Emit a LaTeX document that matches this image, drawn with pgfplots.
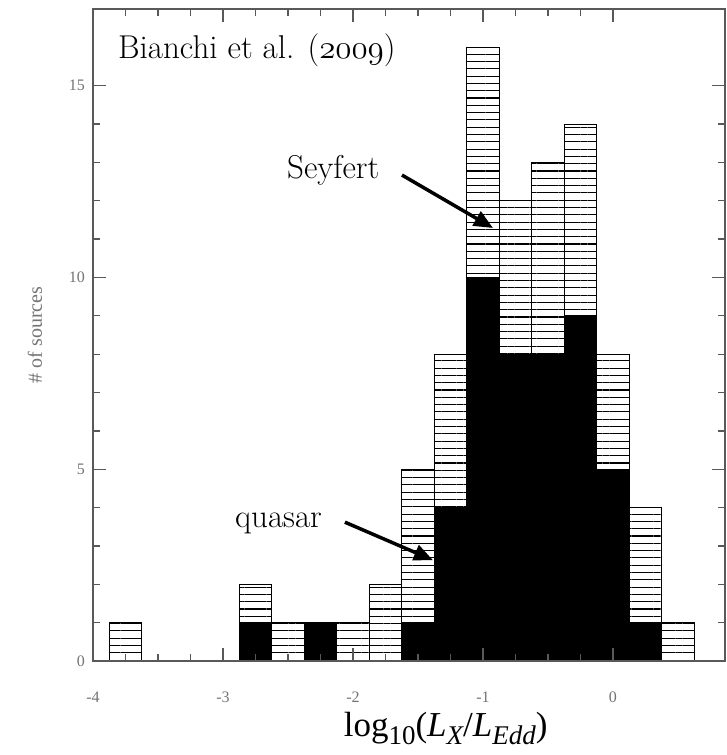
\RequirePackage{fix-cm}
\documentclass[border=0pt]{standalone}
\usepackage{fontspec}
\usepackage{pgfplots}
\pgfplotsset{compat=1.18}
\usetikzlibrary{patterns.meta,arrows.meta}
\newfontfamily\tickfont{Liberation Serif}
\newcommand\sub[1]{\raisebox{-8pt}{\fontsize{27}{29}\selectfont #1}}
\begin{document}
\begin{tikzpicture}
\begin{axis}[
  scale only axis, width=632pt, height=652pt,
  xmin=-4, xmax=0.862, ymin=0, ymax=17,
  axis on top, clip=false,
  xtick={-4,-3,-2,-1,0}, xticklabels={-4,-3,-2,-1,0},
  ytick={0,5,10,15}, yticklabels={0,5,10,15},
  minor x tick num=3, minor y tick num=4,
  tick align=inside,
  major tick length=13pt, minor tick length=7pt,
  axis line style={black!65, line width=1.3pt},
  tick style={black!65, line width=1.3pt},
  ticklabel style={font=\tickfont\fontsize{16}{16}\selectfont, text=black!55, inner sep=1pt},
  xticklabel style={yshift=-30pt},
  yticklabel style={xshift=-7pt},
]
% all sources (hatched)
\addplot[ybar interval, draw=black, line width=1.1pt,
  pattern={Lines[angle=0, distance=7.3pt, line width=1.1pt]}, pattern color=black]
coordinates {(-3.875,1) (-3.625,0) (-3.375,0) (-3.125,0) (-2.875,2) (-2.625,1)
 (-2.375,1) (-2.125,1) (-1.875,2) (-1.625,5) (-1.375,8) (-1.125,16) (-0.875,12)
 (-0.625,13) (-0.375,14) (-0.125,8) (0.125,4) (0.375,1) (0.625,0)};
% quasars (black)
\addplot[ybar interval, draw=black, line width=1.1pt, fill=black]
coordinates {(-2.875,1) (-2.625,0) (-2.375,1) (-2.125,0) (-1.875,0) (-1.625,1)
 (-1.375,4) (-1.125,10) (-0.875,8) (-0.625,8) (-0.375,9) (-0.125,5) (0.125,1) (0.375,0)};
\coordinate (ll) at (rel axis cs:0,0);
\coordinate (ur) at (rel axis cs:1,1);
\node[anchor=base west, inner sep=0, font=\fontsize{33}{35}\selectfont]
  at (axis cs:-3.808,15.70) {Bianchi et al. (\(\mathnormal{2009}\))};
\node[anchor=base west, inner sep=0, font=\fontsize{33}{35}\selectfont]
  at (axis cs:-2.508,12.59) {Seyfert};
\node[anchor=base west, inner sep=0, font=\fontsize{33}{35}\selectfont]
  at (axis cs:-2.908,3.49) {quasar};
\draw[line width=3.5pt, -{Triangle[length=19pt,width=16pt]}]
  (axis cs:-1.623,12.67) -- (axis cs:-0.923,11.29);
\draw[line width=3.5pt, -{Triangle[length=19pt,width=16pt]}]
  (axis cs:-2.062,3.62) -- (axis cs:-1.385,2.63);
\node[rotate=90, font=\tickfont\fontsize{20}{20}\selectfont, text=black!55]
  at ([xshift=-58pt]rel axis cs:0,0.5) {\# of sources};
\node[anchor=base, inner sep=0, font=\tickfont\fontsize{35}{37}\selectfont]
  at ([yshift=-75pt]rel axis cs:0.558,0)
  {log\sub{10}(\textit{L}\sub{\itshape X}/\textit{L}\sub{\itshape Edd})};
\end{axis}
\pgfresetboundingbox
\path[use as bounding box] ([xshift=-93pt,yshift=-94pt]ll) rectangle ([xshift=1pt,yshift=9pt]ur);
\end{tikzpicture}
\end{document}
